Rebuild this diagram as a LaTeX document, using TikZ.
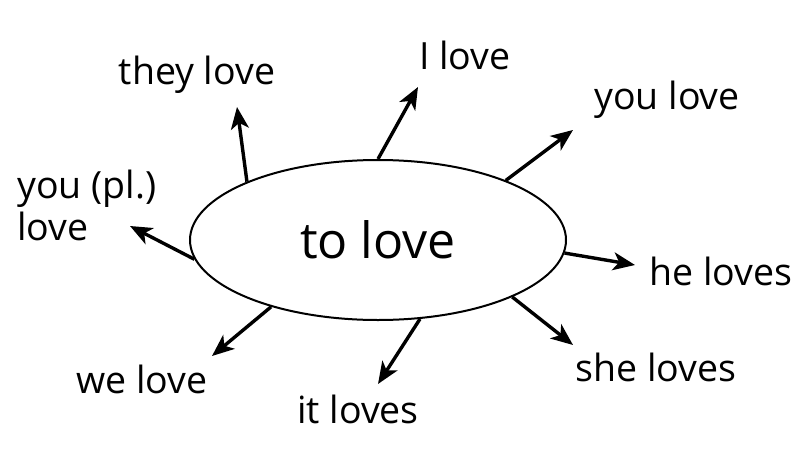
\documentclass[tikz,border=0pt]{standalone}
\usepackage{fontspec}
\setmainfont{Open Sans}
\usetikzlibrary{shapes.geometric,arrows.meta}
\begin{document}
\begin{tikzpicture}[x=1pt,y=-1pt,
  every node/.style={font=\fontsize{37.5}{42}\selectfont,inner sep=0pt},
  verb/.style={draw,ellipse,line width=2pt,minimum width=376pt,minimum height=160pt,font=\fontsize{50}{56}\selectfont},
  link/.style={-{Stealth[length=22pt,width=18pt,inset=6pt]},line width=3.4pt}]
\useasboundingbox (0,0) rectangle (800,450);
\node[verb] (v) at (378,240) {to love};
% conjugated forms
\node (i) at (465,55) {I love};
\node (they) at (197,75) {they love};
\node (you) at (667,100) {you love};
\node[align=left,anchor=west] (pl) at (17,205) {you (pl.)\\love};
\node (he) at (721,271) {he loves};
\node (she) at (656,367) {she loves};
\node (it) at (358,409) {it loves};
\node (we) at (142,379) {we love};
% arrow tips
\coordinate (ti) at (418,87);
\coordinate (tthey) at (237,107);
\coordinate (tyou) at (573,130);
\coordinate (tpl) at (130,226);
\coordinate (the) at (635,265);
\coordinate (tshe) at (573,345);
\coordinate (tit) at (378,384);
\coordinate (twe) at (212,356);
\draw[link] (v.90) -- (ti);
\draw[link] (v.156) -- (tthey);
\draw[link] (v.25) -- (tyou);
\draw[link] (v.186) -- (tpl);
\draw[link] (v.356) -- (the);
\draw[link] (v.337) -- (tshe);
\draw[link] (v.298) -- (tit);
\draw[link] (v.212) -- (twe);
\end{tikzpicture}
\end{document}
